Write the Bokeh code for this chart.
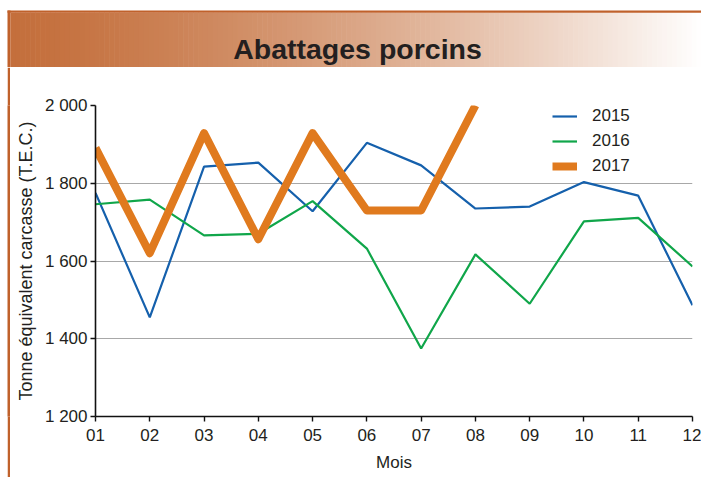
from bokeh.plotting import figure
from bokeh.layouts import column, row
from bokeh.models import Range1d, FixedTicker, Legend, LegendItem, Spacer
from bokeh.embed import file_html
from bokeh.resources import INLINE
from bokeh.core.properties import value

# ---------------- data ----------------
months = ["01", "02", "03", "04", "05", "06", "07", "08", "09", "10", "11", "12"]
s2015 = [1775, 1455, 1843, 1853, 1728, 1904, 1846, 1735, 1740, 1803, 1768, 1486]
s2016 = [1746, 1758, 1666, 1670, 1754, 1632, 1375, 1617, 1490, 1702, 1711, 1586]
s2017 = [1891, 1620, 1929, 1656, 1929, 1730, 1730, 2000]
y_ticks = [1200, 1400, 1600, 1800, 2000]
y_tick_labels = ["1 200", "1 400", "1 600", "1 800", "2 000"]
title_text = "Abattages porcins"
y_label = "Tonne équivalent carcasse (T.E.C.)"
x_label = "Mois"
series_names = ["2015", "2016", "2017"]

FONT = "Liberation Sans"
BORDER = "#C0612B"
TEXT = "#231F20"

# ---------------- header ----------------
W, HH = 701, 67
hdr = figure(width=W, height=HH, x_range=Range1d(0, W), y_range=Range1d(HH, 0),
             toolbar_location=None, output_backend="svg", min_border=0,
             x_axis_type=None, y_axis_type=None, outline_line_color=None,
             background_fill_color="white", border_fill_color="white")
hdr.grid.visible = False

c0 = (196, 111, 60)
c1 = (255, 255, 255)
x0, x1 = 10, W
n = 140
step = (x1 - x0) / n
lefts, rights, cols = [], [], []
for i in range(n):
    t = ((i + 0.5) / n) ** 1.4
    r = round(c0[0] + (c1[0] - c0[0]) * t)
    g = round(c0[1] + (c1[1] - c0[1]) * t)
    b = round(c0[2] + (c1[2] - c0[2]) * t)
    lefts.append(x0 + i * step)
    rights.append(x0 + (i + 1) * step + 0.6)
    cols.append("#%02x%02x%02x" % (r, g, b))
hdr.quad(left=lefts, right=rights, top=[12.3] * n, bottom=[67.5] * n,
         fill_color=cols, line_color=None)
hdr.quad(left=[7], right=[W], top=[10], bottom=[12.3], fill_color=BORDER, line_color=None)
hdr.quad(left=[7], right=[10], top=[10], bottom=[67.5], fill_color=BORDER, line_color=None)
hdr.text(x=[357], y=[48.5], text=[title_text], text_align="center", text_baseline="alphabetic",
         text_font=value(FONT), text_font_style="bold", text_font_size="28.5px",
         text_color=TEXT)

# ---------------- left border strip ----------------
CH = 477 - HH
strip = figure(width=3, height=CH, toolbar_location=None, output_backend="svg",
               min_border=0, x_axis_type=None, y_axis_type=None,
               outline_line_color=None, background_fill_color=BORDER,
               border_fill_color=BORDER)
strip.grid.visible = False

# ---------------- chart ----------------
CW = W - 10
p = figure(width=CW, height=CH, x_range=Range1d(1, 12), y_range=Range1d(1200, 2000),
           toolbar_location=None, output_backend="svg",
           min_border_left=85, min_border_right=9, min_border_top=38, min_border_bottom=61,
           outline_line_color=None, background_fill_color="white", border_fill_color="white")

xs = list(range(1, len(months) + 1))
r15 = p.line(xs, s2015, line_color="#1560AC", line_width=2.2)
r16 = p.line(xs, s2016, line_color="#10A64A", line_width=2.2)
r17 = p.line(xs[:len(s2017)], s2017, line_color="#E07A1E", line_width=8, line_join="round")

p.xgrid.visible = False
p.ygrid.grid_line_color = "#A8A8A8"
p.ygrid.grid_line_width = 1
p.ygrid.ticker = FixedTicker(ticks=y_ticks)

p.xaxis.ticker = FixedTicker(ticks=xs)
p.xaxis.major_label_overrides = {x: m for x, m in zip(xs, months)}
p.yaxis.ticker = FixedTicker(ticks=y_ticks)
p.yaxis.major_label_overrides = {t: l for t, l in zip(y_ticks, y_tick_labels)}

for ax in (p.xaxis, p.yaxis):
    ax.axis_line_color = "#111111"
    ax.axis_line_width = 1.6
    ax.major_tick_line_color = "#111111"
    ax.major_tick_line_width = 1.4
    ax.major_tick_in = 0
    ax.major_tick_out = 5
    ax.minor_tick_line_color = None
    ax.major_label_text_font = FONT
    ax.major_label_text_font_size = "17px"
    ax.major_label_text_color = TEXT
    ax.axis_label_text_font = FONT
    ax.axis_label_text_font_style = "normal"
    ax.axis_label_text_color = TEXT

p.xaxis.axis_label = x_label
p.yaxis.axis_label = y_label
p.xaxis.axis_label_text_font_size = "17px"
p.yaxis.axis_label_text_font_size = "18px"
p.xaxis.major_label_standoff = 7
p.yaxis.major_label_standoff = 3
p.xaxis.axis_label_standoff = 9
p.yaxis.axis_label_standoff = 6

legend = Legend(items=[LegendItem(label=series_names[0], renderers=[r15]),
                       LegendItem(label=series_names[1], renderers=[r16]),
                       LegendItem(label=series_names[2], renderers=[r17])],
                location=(457, 240), orientation="vertical")
legend.background_fill_alpha = 0
legend.border_line_color = None
legend.padding = 0
legend.margin = 0
legend.spacing = 5
legend.glyph_width = 25
legend.glyph_height = 18
legend.label_height = 18
legend.label_standoff = 15
legend.label_text_font = FONT
legend.label_text_font_size = "17px"
legend.label_text_color = TEXT
p.add_layout(legend, "center")

layout = column(hdr, row(Spacer(width=7, height=CH), strip, p))

open("out.html", "w").write(file_html(layout, INLINE))
